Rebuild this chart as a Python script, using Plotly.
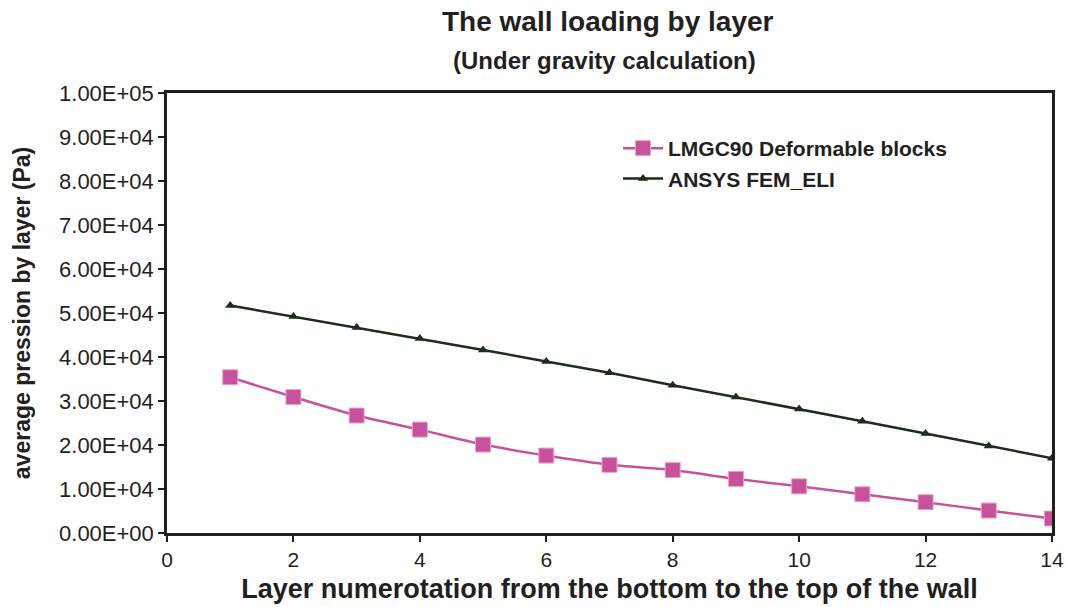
import plotly.graph_objects as go

layers = list(range(1, 15))
lmgc = [35400, 30900, 26700, 23500, 20100, 17600, 15500, 14300, 12300, 10600, 8800, 7000, 5100, 3300]
ansys = [51700, 49200, 46700, 44200, 41600, 39000, 36400, 33600, 30900, 28200, 25400, 22600, 19800, 17000]
y_ticks = [i * 10000 for i in range(11)]
y_tick_labels = ["0.00E+00"] + ["%.2fE+%02d" % (v / 10 ** (len(str(v)) - 1), len(str(v)) - 1) for v in y_ticks[1:]]
x_ticks = list(range(0, 15, 2))

pink = "#C7519A"
dark = "#1B2E1C"
ink = "#231F20"

W, H = 1067, 607
L, R, T, B = 167, 1052, 93, 533
PW, PH = R - L, B - T


def px(xp):
    return (xp - L) / PW


def py(yp):
    return (B - yp) / PH


fig = go.Figure()
fig.add_trace(go.Scatter(
    x=layers, y=lmgc, name="LMGC90 Deformable blocks", mode="lines+markers",
    line=dict(color=pink, width=2.5, shape="spline", smoothing=0.6),
    marker=dict(symbol="square", size=15, color=pink, line=dict(color="#E7A5CB", width=1)),
))
fig.add_trace(go.Scatter(
    x=layers, y=ansys, name="ANSYS FEM_ELI", mode="lines+markers",
    line=dict(color=dark, width=2.5),
    marker=dict(symbol="triangle-up", size=9, color=dark),
))

fig.update_layout(
    width=W, height=H,
    margin=dict(l=L, r=W - R, t=T, b=H - B, autoexpand=False),
    paper_bgcolor="white", plot_bgcolor="white",
    font=dict(family="Liberation Sans, Arial, sans-serif", color=ink),
    showlegend=True,
    legend=dict(x=px(618), y=py(128), xanchor="left", yanchor="top",
                font=dict(size=21, family="Liberation Sans, Arial", color=ink, weight="bold"),
                bgcolor="rgba(0,0,0,0)", itemwidth=40),
)
fig.add_annotation(text="<b>The wall loading by layer</b>", xref="paper", yref="paper",
                   x=px(608), y=py(21), showarrow=False,
                   font=dict(size=28, color=ink), xanchor="center", yanchor="middle")
fig.add_annotation(text="<b>(Under gravity calculation)</b>", xref="paper", yref="paper",
                   x=px(604), y=py(61), showarrow=False,
                   font=dict(size=24, color=ink), xanchor="center", yanchor="middle")

fig.update_xaxes(
    range=[0, 14], tickvals=x_ticks, ticks="outside", ticklen=6, tickwidth=2, tickcolor=ink,
    showline=True, linecolor=ink, linewidth=2.5, mirror=True, showgrid=False, zeroline=False,
    tickfont=dict(size=21, color=ink),
    title=dict(text="<b>Layer numerotation from the bottom to the top of the wall</b>",
               font=dict(size=27, color=ink), standoff=10),
)
fig.update_yaxes(
    range=[0, 100000], tickvals=y_ticks, ticktext=y_tick_labels, ticks="outside", ticklen=6, tickwidth=2,
    tickcolor=ink, showline=True, linecolor=ink, linewidth=2.5, mirror=True, showgrid=False,
    zeroline=False, tickfont=dict(size=22, color=ink),
    title=dict(text="<b>average pression by layer (Pa)</b>", font=dict(size=23, color=ink), standoff=22),
)

fig.write_html("out.html", config={"displayModeBar": False},
               post_script="document.body.style.margin='0px';document.body.style.overflow='hidden';")
